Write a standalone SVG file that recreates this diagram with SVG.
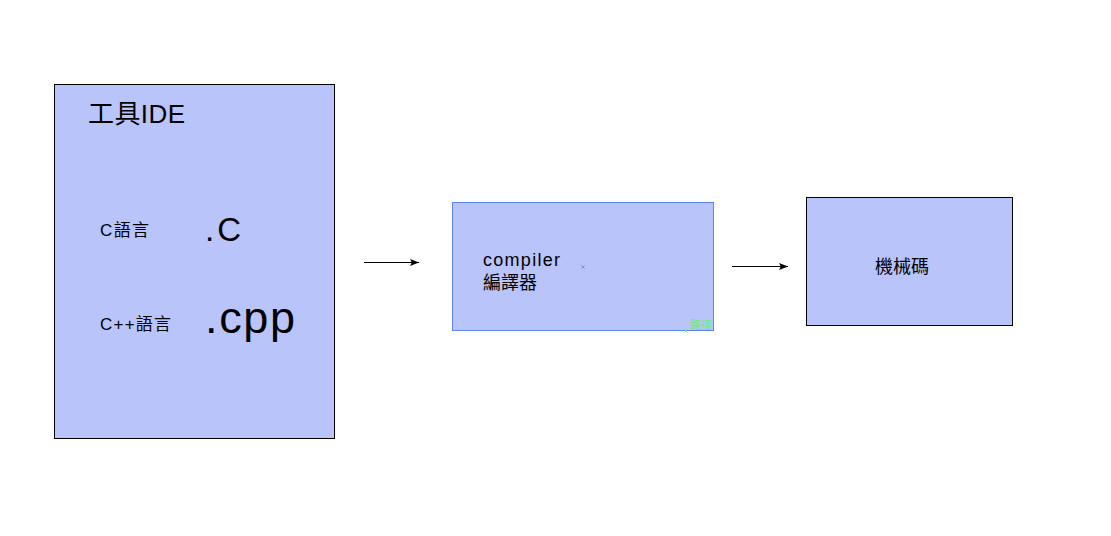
<svg xmlns="http://www.w3.org/2000/svg" width="1111" height="536" viewBox="0 0 1111 536">
<style>
.box{fill:#b9c4fb;stroke:#000;stroke-width:1}
.sel{fill:#b9c4fb;stroke:#5b85f0;stroke-width:1}
text{font-family:"Liberation Sans","Noto Sans CJK TC",sans-serif;fill:#000}
.conn{stroke:#000;stroke-width:1.2;fill:none;marker-end:url(#arr)}
</style>
<defs>
<marker id="arr" viewBox="0 0 10 10" refX="10" refY="5" markerWidth="9" markerHeight="9" markerUnits="userSpaceOnUse" orient="auto">
<path d="M0,1 L10,5 L0,9 L2,5 Z" fill="#000"/>
</marker>
</defs>
<rect width="1111" height="536" fill="#fff"/>
<g id="ide">
<rect class="box" x="54.5" y="84.5" width="280" height="354"/>
<text x="88" y="123" font-size="26" textLength="97">工具IDE</text>
<text x="100" y="236" font-size="17" textLength="49">C語言</text>
<text x="205" y="241" font-size="33" textLength="36">.C</text>
<text x="100" y="330" font-size="17" textLength="71">C++語言</text>
<text x="205" y="333" font-size="45" textLength="90">.cpp</text>
</g>
<g id="compiler">
<rect class="sel" x="452.5" y="202.5" width="261" height="128"/>
<text x="483" y="266" font-size="18" textLength="77">compiler</text>
<text x="483" y="289" font-size="18">編譯器</text>
<path d="M581.5,265.5 L584.5,268.5 M584.5,265.5 L581.5,268.5" stroke="#5b85f0" stroke-width="0.8"/>
<text x="690" y="329" font-size="11" style="fill:#66ee66">路徑</text>
<path d="M684.5,329.5 L687.5,332.5 M687.5,329.5 L684.5,332.5" stroke="#66ee66" stroke-width="0.8"/>
</g>
<g id="machine">
<rect class="box" x="806.5" y="197.5" width="206" height="128"/>
<text x="875" y="273" font-size="18">機械碼</text>
</g>
<g id="connectors">
<line class="conn" x1="364" y1="262.5" x2="419" y2="262.5"/>
<line class="conn" x1="732" y1="266.5" x2="788" y2="266.5"/>
</g>
</svg>
